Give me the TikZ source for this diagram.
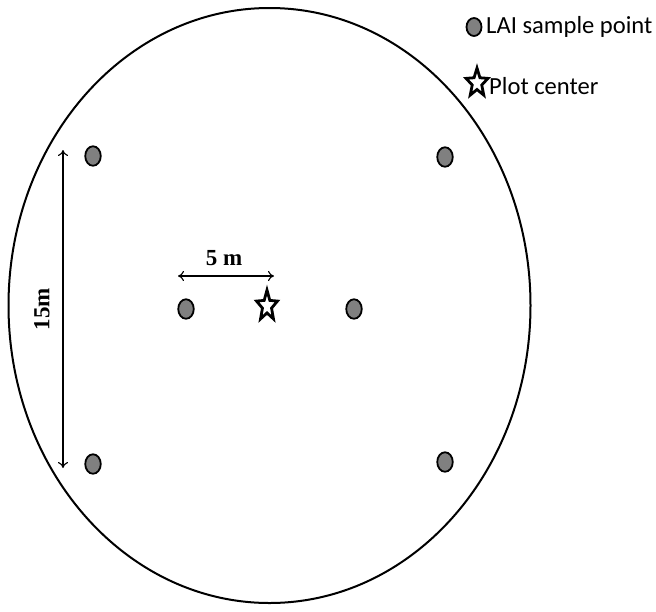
\documentclass[tikz,border=0pt]{standalone}
\usepackage{fontspec}
\setmainfont{Liberation Serif}
\newfontfamily\legfont{Carlito}
\usetikzlibrary{shapes.geometric,arrows.meta}
\definecolor{dotgray}{gray}{0.5}
\begin{document}
\begin{tikzpicture}[x=1pt,y=-1pt,
  sample/.style={ellipse,draw=black,fill=dotgray,line width=1.8pt,minimum width=15.5pt,minimum height=19.5pt,inner sep=0pt},
  centerstar/.style={star,star points=5,star point ratio=2.3,draw=black,fill=white,line width=2.8pt,minimum size=22pt,inner sep=0pt,transform shape},
  dimline/.style={line width=1.1pt,{To[length=6pt,width=10pt]}-{To[length=6pt,width=10pt]}},
  dimlabel/.style={font=\bfseries\fontsize{23}{27}\selectfont,inner sep=0pt},
  legtext/.style={font=\legfont\fontsize{24.6}{30}\selectfont,anchor=west,inner sep=0pt}]
\useasboundingbox (0,0) rectangle (656,611);
% plot boundary
\node[ellipse,draw=black,line width=2pt,minimum width=522pt,minimum height=595pt,inner sep=0pt] (plot) at (269.5,305.5) {};
% sample points
\node[sample] (p1) at (93,156) {};
\node[sample] (p2) at (445,157) {};
\node[sample] (p3) at (93,464) {};
\node[sample] (p4) at (445,462) {};
\node[sample] (p5) at (186,309) {};
\node[sample] (p6) at (354,309) {};
\begin{scope}[shift={(267,306)},yscale=1.45]
\node[centerstar] (c) at (0,0) {};
\end{scope}
% dimension 15 m
\coordinate (v1) at (63,150);
\coordinate (v2) at (63,468);
\draw[dimline] (v1) -- (v2);
\node[dimlabel,rotate=90] (l15) at (42,309) {15m};
% dimension 5 m
\coordinate (h1) at (178,276);
\coordinate (h2) at (274,276);
\draw[dimline] (h1) -- (h2);
\node[dimlabel] (l5) at (224,258) {5 m};
% legend
\node[sample,minimum width=15pt,minimum height=18pt] (legdot) at (474,27) {};
\node[legtext] (legt1) at (486,27) {LAI sample point};
\begin{scope}[shift={(477,83)},yscale=1.3]
\node[centerstar,minimum size=23pt] (legstar) at (0,0) {};
\end{scope}
\node[legtext] (legt2) at (489,86) {Plot center};
\end{tikzpicture}
\end{document}
